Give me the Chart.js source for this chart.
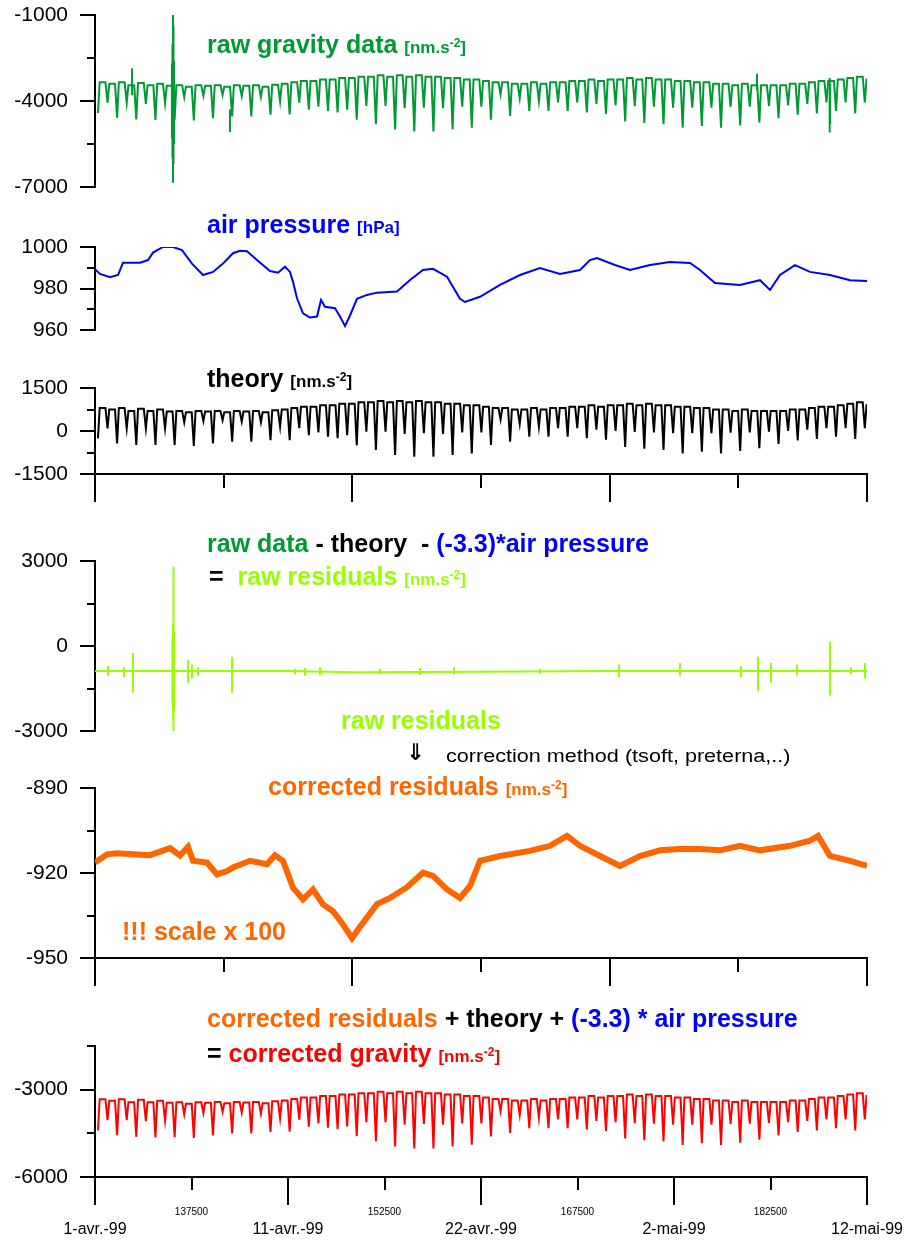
<!DOCTYPE html>
<html>
<head>
<meta charset="utf-8">
<script src="https://cdn.jsdelivr.net/npm/chart.js@4.4.1/dist/chart.umd.min.js"></script>
<style>
  body { margin: 0; background: #fff; }
  #page { position: relative; width: 909px; height: 1240px; overflow: hidden; font-family: "Liberation Sans", Arial, sans-serif; }
  canvas { position: absolute; left: 0; }
  .t { position: absolute; white-space: nowrap; font-weight: bold; font-size: 25px; line-height: 25px; }
  .u { font-size: 17px; }
  sup { font-size: 12px; line-height: 0; vertical-align: 6px; }
  .k { color: #000; }
  .b { color: #0000ff; }
</style>
</head>
<body>
<div id="page">
  <canvas id="c1"></canvas>
  <canvas id="c2"></canvas>
  <canvas id="c3"></canvas>
  <canvas id="c4"></canvas>
  <canvas id="c5"></canvas>
  <canvas id="c6"></canvas>

  <div class="t" style="left:207px;top:32px;color:#009933">raw gravity data <span class="u">[nm.s<sup>-2</sup>]</span></div>
  <div class="t" style="left:207px;top:212px;color:#0000ff">air pressure <span class="u">[hPa]</span></div>
  <div class="t" style="left:207px;top:366px;color:#000">theory <span class="u">[nm.s<sup>-2</sup>]</span></div>

  <div class="t" style="left:207px;top:531px;color:#009933">raw data <span class="k">- theory&nbsp; -</span> <span class="b">(-3.3)*air pressure</span></div>
  <div class="t" style="left:209px;top:564px;color:#99ff00"><span class="k">=</span>&nbsp; raw residuals <span class="u">[nm.s<sup>-2</sup>]</span></div>
  <div class="t" style="left:341px;top:708px;color:#99ff00">raw residuals</div>
  <div class="t" style="left:406px;top:741px;font-family:'DejaVu Sans';font-size:23px;line-height:23px;color:#000">⇓</div>
  <div class="t" style="left:446px;top:747px;font-weight:normal;font-size:18px;line-height:18px;color:#000;transform:scaleX(1.2);transform-origin:left top">correction method (tsoft, preterna,..)</div>

  <div class="t" style="left:268px;top:774px;color:#ff6600">corrected residuals <span class="u">[nm.s<sup>-2</sup>]</span></div>
  <div class="t" style="left:122px;top:919px;color:#ff6600">!!! scale x 100</div>

  <div class="t" style="left:207px;top:1006px;color:#ff6600">corrected residuals <span class="k">+ theory +</span> <span class="b">(-3.3) * air pressure</span></div>
  <div class="t" style="left:207px;top:1041px;color:#ff0000"><span class="k">=</span> corrected gravity <span class="u">[nm.s<sup>-2</sup>]</span></div>
</div>

<script>
// time axis in minutes since 1 jan 1999
const tStart = 130000, tEnd = 190000
const dateTicks = [130000, 145000, 160000, 175000, 190000]
const dateLabels = ['1-avr.-99', '11-avr.-99', '22-avr.-99', '2-mai-99', '12-mai-99']
const midTicks = [137500, 152500, 167500, 182500]
const upperMajor = [130000, 150000, 170000, 190000]
const upperMinor = [140000, 160000, 180000]

// tide: one low and one high per semi-diurnal cycle
const cycleStart = 130230
const cyclePeriod = 745

const rawLows = [
  -4420, -4060, -4580, -4060, -4640, -4100, -4660, -4080, -4650, -3870,
  -4680, -3820, -4600, -3790, -4540, -3830, -4540, -3860, -4480, -4010,
  -4470, -4060, -4300, -4200, -4350, -4400, -4300, -4650, -4170, -4810,
  -4170, -4990, -4250, -5060, -4230, -5060, -4250, -4990, -4200, -4930,
  -4200, -4650, -3770, -4520, -3900, -4350, -4000, -4350, -4050, -4350,
  -4050, -4400, -4100, -4450, -4150, -4710, -4180, -4770, -4200, -4810,
  -4230, -4930, -4230, -4870, -4230, -4930, -4210, -4850, -4200, -4750,
  -4170, -4600, -4150, -4480, -4100, -4430, -4050, -4350, -4050, -4430,
  -4050]
const rawHighs = [
  -3350, -3400, -3350, -3450, -3370, -3450, -3400, -3470, -3450, -3500,
  -3450, -3470, -3450, -3500, -3450, -3470, -3450, -3500, -3430, -3400,
  -3350, -3300, -3300, -3250, -3250, -3200, -3200, -3150, -3150, -3100,
  -3150, -3100, -3150, -3100, -3150, -3150, -3200, -3200, -3250, -3250,
  -3300, -3350, -3350, -3400, -3400, -3350, -3400, -3350, -3350, -3300,
  -3300, -3250, -3300, -3250, -3250, -3200, -3250, -3200, -3250, -3250,
  -3300, -3300, -3350, -3350, -3400, -3400, -3450, -3400, -3450, -3450,
  -3450, -3450, -3400, -3400, -3350, -3300, -3300, -3250, -3200, -3150,
  -3250]
// earthquake and other disturbances in the raw record
const rawSpikeT = [132880, 135980, 136020, 136060, 136100, 136140, 140490, 181450, 187100, 187140]
const rawSpikeHi = [-2860, -2700, -2000, -1000, -1400, -2600, -4300, -3050, -3200, -3400]
const rawSpikeLo = [-3800, -5300, -6000, -6850, -6200, -5500, -5080, -3600, -5100, -4800]

const pressT = [130000, 130389, 131166, 131788, 132176, 133497, 134119, 134508, 135285, 136062,
  136762, 137539, 138394, 139171, 139948, 140725, 141269, 141813, 142591, 143601,
  144223, 144767, 145155, 145389, 145699, 146166, 146710, 147254, 147565, 147876,
  148653, 149041, 149430, 149819, 150363, 151140, 151917, 153471, 154482, 155492,
  156269, 157357, 158368, 158756, 159922, 161477, 163031, 164585, 166140, 167694,
  168471, 169015, 170414, 171580, 173135, 174689, 176243, 177021, 178186, 180129,
  181684, 182461, 183238, 184404, 185570, 187124, 188679, 190000]
const pressV = [989.3, 987, 985.4, 986.5, 992.4, 992.4, 993.7, 997.3, 1000, 1000,
  998.5, 992, 986.5, 988, 992, 997, 998.2, 998, 993.7, 988.4,
  987.6, 990.5, 988, 983.3, 975.3, 968, 966, 966.5, 974.5, 971.2,
  970.5, 966.5, 961.9, 967, 975, 976.9, 978, 978.5, 984.1, 988.9,
  989.5, 985.7, 975, 973.5, 976, 981.7, 986.5, 989.9, 987, 988.9,
  993.7, 994.7, 991.3, 988.9, 991.3, 992.8, 992.3, 988.9, 982.6, 981.7,
  984, 979.3, 986.5, 991.3, 988, 986.5, 984, 983.6]

const theoryLows = [
  -260, 90, -430, 90, -490, 90, -490, 90, -490, 300,
  -520, 350, -430, 380, -370, 330, -370, 300, -320, 150,
  -320, 100, -150, -50, -200, -250, -150, -500, -20, -660,
  -20, -840, -100, -900, -80, -900, -100, -840, -50, -780,
  -50, -490, 400, -370, 250, -200, 150, -200, 100, -200,
  100, -250, 50, -300, 0, -560, -30, -620, -50, -660,
  -80, -780, -80, -720, -80, -780, -60, -700, -50, -600,
  -20, -450, 0, -330, 50, -280, 100, -200, 100, -280,
  100]
const theoryHighs = [
  800, 750, 800, 700, 780, 700, 750, 680, 700, 650,
  700, 680, 700, 650, 700, 680, 700, 650, 720, 750,
  800, 850, 850, 900, 900, 950, 950, 1000, 1000, 1050,
  1000, 1050, 1000, 1050, 1000, 1000, 950, 950, 900, 900,
  850, 800, 800, 750, 750, 800, 750, 800, 800, 850,
  850, 900, 850, 900, 900, 950, 900, 950, 900, 900,
  850, 850, 800, 800, 750, 750, 700, 750, 700, 700,
  700, 700, 750, 750, 800, 850, 850, 900, 950, 1000,
  900]

const rrBaseT = [130000, 145000, 150000, 160000, 170000, 190000]
const rrBaseV = [-880, -885, -930, -905, -885, -880]
const rrSpikeT = [131010, 132254, 132953, 136020, 136060, 136100, 136140, 137228, 137539, 138005,
  140648, 145544, 146321, 147487, 152150, 155259, 157901, 164585, 170725, 175466,
  180207, 181529, 182539, 184560, 187124, 188756, 189844]
const rrSpikeHi = [-700, -750, -250, 300, 800, 2800, 500, -500, -650, -750,
  -380, -800, -780, -750, -800, -780, -750, -800, -650, -600,
  -700, -380, -600, -650, 150, -750, -600]
const rrSpikeLo = [-1050, -1100, -1650, -2000, -2600, -3150, -2300, -1300, -1150, -1050,
  -1650, -1000, -1050, -1020, -1000, -1020, -1000, -980, -1100, -1050,
  -1100, -1600, -1300, -1050, -1750, -1000, -1150]

const corrResT = [130000, 130933, 131710, 132953, 134275, 135829, 136606, 137228, 137617, 138705,
  139482, 140259, 140725, 142047, 143368, 143990, 144612, 145389, 146166, 146943,
  147720, 148497, 149275, 149974, 150596, 151917, 152927, 154249, 155492, 156269,
  157357, 158368, 159145, 159922, 161477, 163808, 165363, 166684, 167694, 169249,
  170803, 172357, 173912, 175466, 177021, 178575, 180129, 181684, 184015, 185570,
  186192, 187124, 188679, 190000]
const corrResV = [-916.3, -913.4, -913, -913.4, -913.7, -911.2, -913.8, -910.8, -915.7, -916.3,
  -920.5, -919.3, -918, -915.7, -916.9, -913.7, -915.7, -925.2, -929.3, -925.8,
  -931.1, -933.5, -938.2, -943, -939, -931, -928.8, -925, -919.9, -921,
  -925.8, -928.8, -924.6, -915.7, -914, -912.2, -910.4, -906.9, -910.4, -914,
  -917.5, -914, -912, -911.5, -911.5, -912, -910.4, -912, -910.4, -908.6,
  -906.9, -914, -915.7, -917.5]

const corrLows = [
  -4400, -4050, -4560, -4050, -4620, -4080, -4640, -4060, -4630, -3850,
  -4660, -3800, -4570, -3760, -4500, -3790, -4500, -3830, -4450, -3980,
  -4440, -4030, -4270, -4160, -4310, -4360, -4260, -4600, -4120, -4770,
  -4120, -4950, -4200, -5020, -4180, -5020, -4200, -4950, -4160, -4890,
  -4160, -4610, -3740, -4490, -3870, -4320, -3970, -4320, -4020, -4320,
  -4020, -4370, -4070, -4420, -4120, -4680, -4150, -4740, -4170, -4780,
  -4200, -4900, -4200, -4840, -4200, -4900, -4180, -4820, -4170, -4720,
  -4140, -4570, -4120, -4450, -4070, -4400, -4020, -4320, -4020, -4400,
  -4020]
const corrHighs = [
  -3330, -3380, -3330, -3430, -3350, -3430, -3380, -3450, -3430, -3480,
  -3430, -3450, -3420, -3470, -3420, -3440, -3420, -3470, -3400, -3370,
  -3320, -3270, -3270, -3220, -3220, -3170, -3170, -3120, -3120, -3070,
  -3120, -3070, -3120, -3070, -3120, -3120, -3170, -3170, -3220, -3220,
  -3270, -3320, -3320, -3370, -3370, -3320, -3370, -3320, -3320, -3270,
  -3270, -3220, -3270, -3220, -3220, -3170, -3220, -3170, -3220, -3220,
  -3270, -3270, -3320, -3320, -3370, -3370, -3420, -3370, -3420, -3420,
  -3420, -3420, -3370, -3370, -3320, -3270, -3270, -3220, -3170, -3120,
  -3220]

const green = '#009933', blue = '#0000ff', lime = '#99ff00', orange = '#ff6600', red = '#ff0000'
const clear = 'rgba(0,0,0,0)'

Chart.defaults.font.family = '"Liberation Sans", Arial, sans-serif'
Chart.defaults.color = '#000'

// steep rise, flat top, steep fall
function tidePoints(lows, highs) {
    let pts = []
    let n = Math.min(lows.length, highs.length)
    for (let k = 0; k < n; k++) {
        let t = cycleStart + k * cyclePeriod
        pts.push({ x: t, y: lows[k] })
        pts.push({ x: t + 0.18 * cyclePeriod, y: highs[k] })
        pts.push({ x: t + 0.78 * cyclePeriod, y: highs[k] })
    }
    return pts
}

function linePoints(ts, vs) {
    return ts.map((t, i) => ({ x: t, y: vs[i] }))
}

// vertical strokes, separated by gaps
function spikePoints(ts, hi, lo) {
    let pts = []
    ts.forEach((t, i) => {
        pts.push({ x: t, y: hi[i] }, { x: t, y: lo[i] }, { x: t, y: null })
    })
    return pts
}

function ds(data, color, width) {
    return { data: data, borderColor: color, borderWidth: width, pointRadius: 0, pointHoverRadius: 0, tension: 0, spanGaps: false }
}

// tick marks: long where there is a label, short in between
const tickMarks = {
    id: 'tickMarks',
    afterDraw(chart, args, opts) {
        const ctx = chart.ctx
        const ys = chart.scales.y, xs = chart.scales.x
        ctx.save()
        ctx.strokeStyle = '#000'
        ctx.lineWidth = 2
        ys.ticks.forEach(t => {
            let p = Math.round(ys.getPixelForValue(t.value))
            let len = Math.abs((t.value - opts.yMin) % opts.yLabel) < 1e-6 ? 15 : 8
            ctx.beginPath()
            ctx.moveTo(ys.right - len, p)
            ctx.lineTo(ys.right, p)
            ctx.stroke()
        })
        ;(opts.xMarks || []).forEach(m => {
            let p = Math.round(xs.getPixelForValue(m.v))
            ctx.beginPath()
            ctx.moveTo(p, xs.top)
            ctx.lineTo(p, xs.top + m.len)
            ctx.stroke()
        })
        ctx.restore()
    }
}

const panels = [
    { id: 'c1', top: 0, height: 205, areaTop: 15, areaBottom: 187, yMin: -7000, yMax: -1000, yStep: 1500, yLabel: 3000, xAxis: 'none',
      datasets: [ds(tidePoints(rawLows, rawHighs), green, 2), ds(spikePoints(rawSpikeT, rawSpikeHi, rawSpikeLo), green, 2)] },
    { id: 'c2', top: 228, height: 120, areaTop: 247, areaBottom: 330, yMin: 960, yMax: 1000, yStep: 10, yLabel: 20, xAxis: 'none',
      datasets: [ds(linePoints(pressT, pressV), blue, 2)] },
    { id: 'c3', top: 370, height: 136, areaTop: 388, areaBottom: 474, yMin: -1500, yMax: 1500, yStep: 750, yLabel: 1500, xAxis: 'marks',
      datasets: [ds(tidePoints(theoryLows, theoryHighs), '#000', 2)] },
    { id: 'c4', top: 540, height: 210, areaTop: 561, areaBottom: 731, yMin: -3000, yMax: 3000, yStep: 1500, yLabel: 3000, xAxis: 'none',
      datasets: [ds(linePoints(rrBaseT, rrBaseV), lime, 2), ds(spikePoints(rrSpikeT, rrSpikeHi, rrSpikeLo), lime, 2)] },
    { id: 'c5', top: 770, height: 222, areaTop: 788, areaBottom: 958, yMin: -950, yMax: -890, yStep: 15, yLabel: 30, xAxis: 'marks',
      datasets: [ds(linePoints(corrResT, corrResV), orange, 6)] },
    { id: 'c6', top: 1028, height: 212, areaTop: 1046, areaBottom: 1177, yMin: -6000, yMax: -1500, yStep: 1500, yLabel: 3000, xAxis: 'dates',
      datasets: [ds(tidePoints(corrLows, corrHighs), red, 2)] }
]

panels.forEach(p => {
    const cv = document.getElementById(p.id)
    cv.width = 909
    cv.height = p.height
    cv.style.top = p.top + 'px'
    const hasX = p.xAxis !== 'none'
    const below = p.top + p.height - p.areaBottom

    let xMarks = []
    if (p.xAxis === 'marks') {
        upperMajor.forEach(v => xMarks.push({ v: v, len: 28 }))
        upperMinor.forEach(v => xMarks.push({ v: v, len: 14 }))
    } else if (p.xAxis === 'dates') {
        dateTicks.forEach(v => xMarks.push({ v: v, len: 28 }))
        midTicks.forEach(v => xMarks.push({ v: v, len: 13 }))
    }

    let xTicks = { display: false, padding: 0 }
    if (p.xAxis === 'dates') {
        xTicks = {
            stepSize: 7500,
            autoSkip: false,
            maxRotation: 0,
            padding: 0,
            color: '#000',
            callback: v => {
                let i = dateTicks.indexOf(v)
                return i >= 0 ? ['', dateLabels[i]] : String(v)
            },
            font: c => (c.tick && dateTicks.includes(c.tick.value)) ? { size: 16, lineHeight: 1 } : { size: 10, lineHeight: 1.2 }
        }
    }

    let xScale = {
        type: 'linear',
        min: tStart,
        max: tEnd,
        display: hasX,
        grid: { display: true, drawOnChartArea: false, drawTicks: true, tickLength: 29, color: clear },
        border: { display: true, color: '#000', width: 2 },
        ticks: xTicks
    }
    if (hasX) xScale.afterFit = s => { s.height = below }

    new Chart(cv, {
        type: 'line',
        data: { datasets: p.datasets },
        options: {
            responsive: false,
            animation: false,
            devicePixelRatio: 1,
            layout: { autoPadding: false, padding: { left: 0, right: 42, top: p.areaTop - p.top, bottom: hasX ? 0 : below } },
            plugins: {
                legend: { display: false },
                tooltip: { enabled: false },
                tickMarks: { yMin: p.yMin, yLabel: p.yLabel, xMarks: xMarks }
            },
            scales: {
                x: xScale,
                y: {
                    min: p.yMin,
                    max: p.yMax,
                    afterFit: s => { s.width = 95 },
                    grid: { display: true, drawOnChartArea: false, drawTicks: true, tickLength: 27, color: clear },
                    border: { display: true, color: '#000', width: 2 },
                    ticks: {
                        stepSize: p.yStep,
                        autoSkip: false,
                        padding: 0,
                        color: '#000',
                        font: { size: 21 },
                        callback: v => Math.abs((v - p.yMin) % p.yLabel) < 1e-6 ? String(v) : ''
                    }
                }
            }
        },
        plugins: [tickMarks]
    })
})
</script>
</body>
</html>
